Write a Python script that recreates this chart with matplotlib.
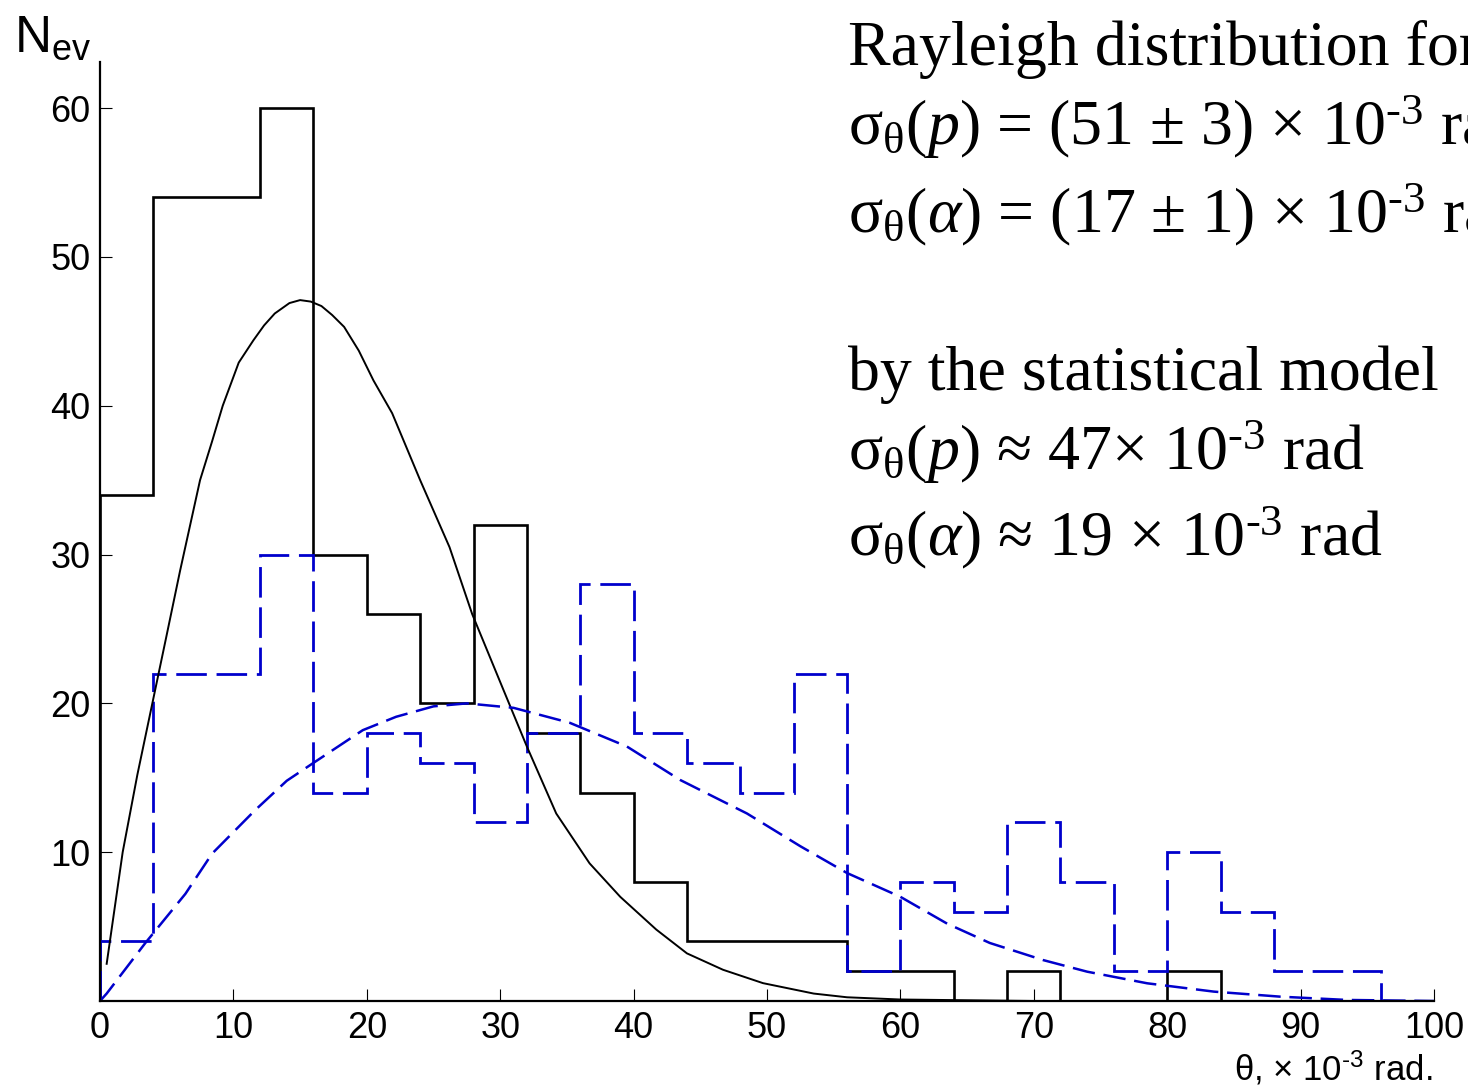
"""
Angular distribution histograms with Rayleigh curves.
"""

import matplotlib
matplotlib.use("Agg")
import matplotlib.pyplot as plt

# bin edges, x 10^-3 rad
edges = [0, 4, 8, 12, 16, 20, 24, 28, 32, 36, 40, 44, 48, 52, 56, 60,
         64, 68, 72, 76, 80, 84, 88, 92, 96, 100]

# protons (black solid) and alphas (blue dashed), counts per bin
counts_p = [34, 54, 54, 60, 30, 26, 20, 32, 18, 14, 8, 4, 4, 4, 2, 2,
            0, 2, 0, 0, 2, 0, 0, 0, 0]
counts_a = [4, 22, 22, 30, 14, 18, 16, 12, 18, 28, 18, 16, 14, 22, 2, 8,
            6, 12, 8, 2, 10, 6, 2, 2, 0]

# fitted curves
curve_p_x = [0.5, 1.7, 2.8, 3.9, 5.0, 6.0, 7.5, 8.4, 9.2, 10.4, 11.5, 12.3, 13.1,
             14.2, 15.0, 15.8, 16.6, 17.4, 18.3, 19.4, 20.5, 21.9, 24.0, 26.2,
             27.9, 30.2, 32.0, 34.2, 36.7, 39.0, 41.7, 44.0, 46.7, 49.7, 53.5,
             56.0, 60, 70, 80, 90, 100]
curve_p_y = [2.5, 10.0, 15.2, 19.9, 24.6, 28.9, 35.0, 37.6, 40.0, 42.9, 44.4, 45.4, 46.2,
             46.9, 47.1, 47.0, 46.7, 46.1, 45.3, 43.7, 41.7, 39.5, 35.0, 30.5,
             26.0, 21.0, 17.1, 12.6, 9.25, 7.0, 4.8, 3.2, 2.1, 1.2, 0.5,
             0.25, 0.1, 0, 0, 0, 0]

curve_a_x = [0, 0.5, 3.4, 6.4, 8.4, 11.6, 14.0, 16.0, 19.7, 22.2, 25.0, 27.5,
             31.0, 35.2, 39.5, 43.5, 48.5, 52.5, 56.0, 60.0, 63.5, 66.7, 70.7,
             74.0, 78.5, 83.5, 88.5, 93.5, 100]
curve_a_y = [0, 0.5, 3.9, 7.2, 9.9, 12.8, 14.8, 16.0, 18.2, 19.1, 19.8, 20.0,
             19.7, 18.7, 17.1, 14.85, 12.6, 10.4, 8.6, 7.0, 5.2, 3.9, 2.75,
             1.97, 1.19, 0.63, 0.29, 0.07, 0]

x_ticks = [0, 10, 20, 30, 40, 50, 60, 70, 80, 90, 100]
y_ticks = [10, 20, 30, 40, 50, 60]

sub = r"$_{\mathrm{θ}}$"
sup = r"$^{\mathrm{‐3}}$"
text_lines = [
    "Rayleigh distribution for",
    "σ" + sub + r"($\mathit{p}$) = (51 ± 3) × 10" + sup + " rad",
    "σ" + sub + r"($\mathit{α}$) = (17 ± 1) × 10" + sup + " rad",
    "by the statistical model",
    "σ" + sub + r"($\mathit{p}$) ≈ 47× 10" + sup + " rad",
    "σ" + sub + r"($\mathit{α}$) ≈ 19 × 10" + sup + " rad",
]
text_baselines = [65, 145, 232, 390, 470, 555]

plt.rcParams["font.family"] = ["Liberation Sans", "DejaVu Sans"]
plt.rcParams["mathtext.fontset"] = "custom"
plt.rcParams["mathtext.rm"] = "Liberation Serif"
plt.rcParams["mathtext.it"] = "Liberation Serif:italic"
plt.rcParams["mathtext.sf"] = "Liberation Sans"

W, H = 1468, 1087
fig = plt.figure(figsize=(W / 100, H / 100), dpi=100)
ax = fig.add_axes([100 / W, 1 - 1001 / H, 1334 / W, 939 / H])

blue = "#0000cc"
ax.stairs(counts_p, edges, baseline=0, color="black", lw=1.9)
ax.stairs(counts_a, edges, baseline=0, color=blue, lw=2.0,
          linestyle=(0, (11, 3.5)))
ax.plot(curve_p_x, curve_p_y, color="black", lw=1.4)
ax.plot(curve_a_x, curve_a_y, color=blue, lw=1.8, dashes=(9, 3.5))

ax.set_xlim(0, 100)
ax.set_ylim(0, 63.1)
ax.set_xticks(x_ticks)
ax.set_yticks(y_ticks)
ax.tick_params(direction="in", length=8.5, width=0.8, labelsize=26, pad=7)
for side in ("top", "right"):
    ax.spines[side].set_visible(False)
for side in ("left", "bottom"):
    ax.spines[side].set_linewidth(1.6)

# axis titles
fig.text(14 / W, 1 - 52 / H, r"$\mathsf{N_{ev}}$", fontsize=37, va="baseline")
fig.text(1432 / W, 1 - 1080 / H, r"θ, × 10$\mathsf{^{‐3}}$ rad.",
         fontsize=25, ha="right", va="baseline")

# annotation block on the right
for line, base in zip(text_lines, text_baselines):
    fig.text(848 / W, 1 - base / H, line, fontsize=46, va="baseline",
             family="Liberation Serif")

fig.savefig("out.png", dpi=100)
